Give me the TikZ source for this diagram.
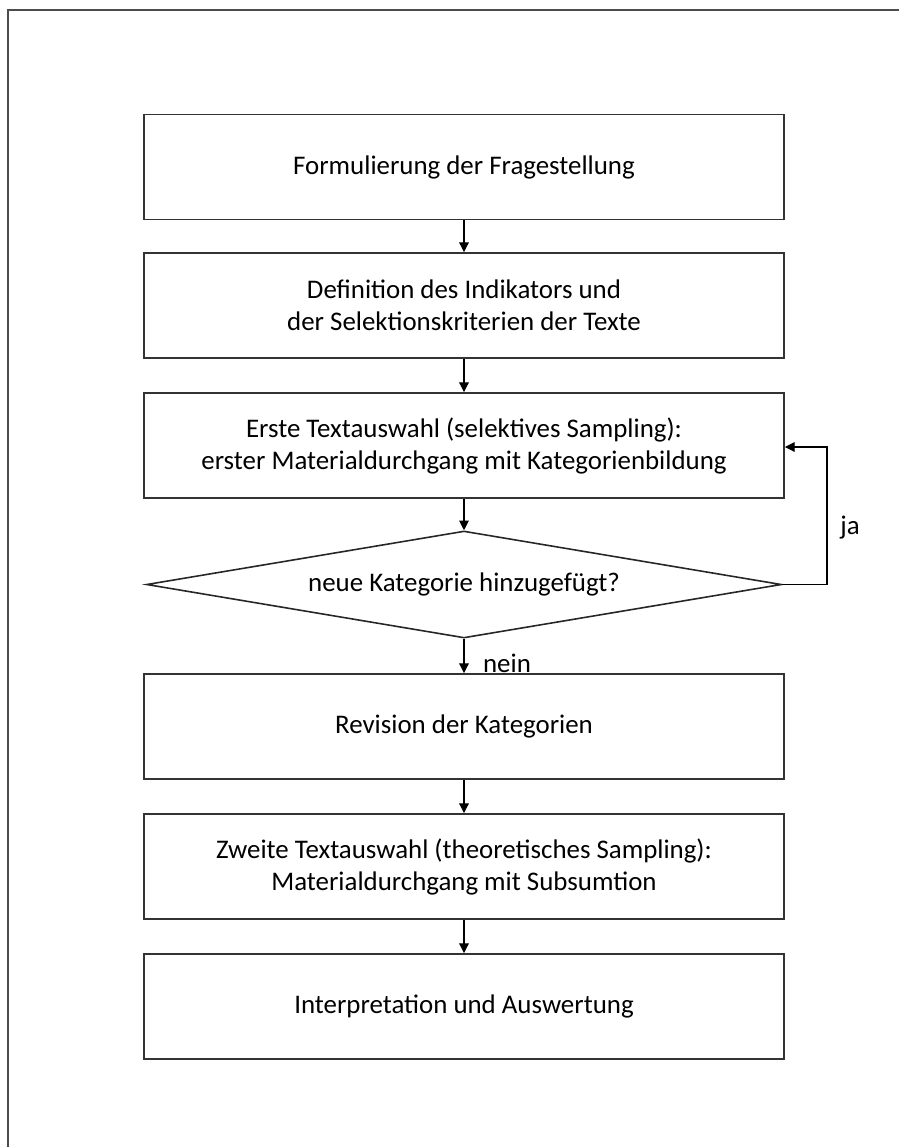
\documentclass[tikz,border=0pt]{standalone}
\usepackage{fontspec}
\setmainfont{Carlito}
\usetikzlibrary{shapes.geometric,arrows.meta}

\tikzset{
  stepbox/.style={draw=black!80, line width=1.1pt, minimum width=12.8cm, minimum height=2.1cm, align=center, inner sep=0pt},
  askbox/.style={diamond, draw=black!85, line width=0.9pt, minimum width=12.7cm, minimum height=2.14cm, aspect=6, inner sep=0pt},
  arr/.style={-{Triangle[length=5.5pt,width=5.5pt]}, line width=0.6pt},
}

\begin{document}
\begin{tikzpicture}[font=\fontsize{15.3}{18.2}\selectfont]

    % Page size
    \useasboundingbox (0, 0) rectangle (17.98, -22.94);

    % Frame (cut off at right and bottom)
    \draw[black!70, line width=0.8pt] (17.98, -0.2) -- (0.16, -0.2) -- (0.16, -22.94);

    % Steps
    \node[stepbox] (frage) at (9.28, -3.34) {Formulierung der Fragestellung};
    \node[stepbox] (indik) at (9.28, -6.11) {Definition des Indikators und\\der Selektionskriterien der Texte};
    \node[stepbox] (erste) at (9.28, -8.91) {Erste Textauswahl (selektives Sampling):\\erster Materialdurchgang mit Kategorienbildung};
    \node[askbox]  (neu)   at (9.28, -11.69) {neue Kategorie hinzugefügt?};
    \node[stepbox] (revis) at (9.28, -14.53) {Revision der Kategorien};
    \node[stepbox] (zweit) at (9.28, -17.33) {Zweite Textauswahl (theoretisches Sampling):\\Materialdurchgang mit Subsumtion};
    \node[stepbox] (ausw)  at (9.28, -20.13) {Interpretation und Auswertung};

    % Arrows
    \draw[arr] (frage) -- (indik);
    \draw[arr] (indik) -- (erste);
    \draw[arr] (erste) -- (neu);
    \draw[arr] (neu) -- (revis);
    \draw[arr] (revis) -- (zweit);
    \draw[arr] (zweit) -- (ausw);

    % Loop back
    \coordinate (back) at (16.54, -8.94);
    \draw[arr] (neu.east) -| (back) -- (erste.east |- back);

    % Labels
    \node (ja)   at (17.0, -10.56) {ja};
    \node (nein) at (10.14, -13.26) {nein};
\end{tikzpicture}
\end{document}
